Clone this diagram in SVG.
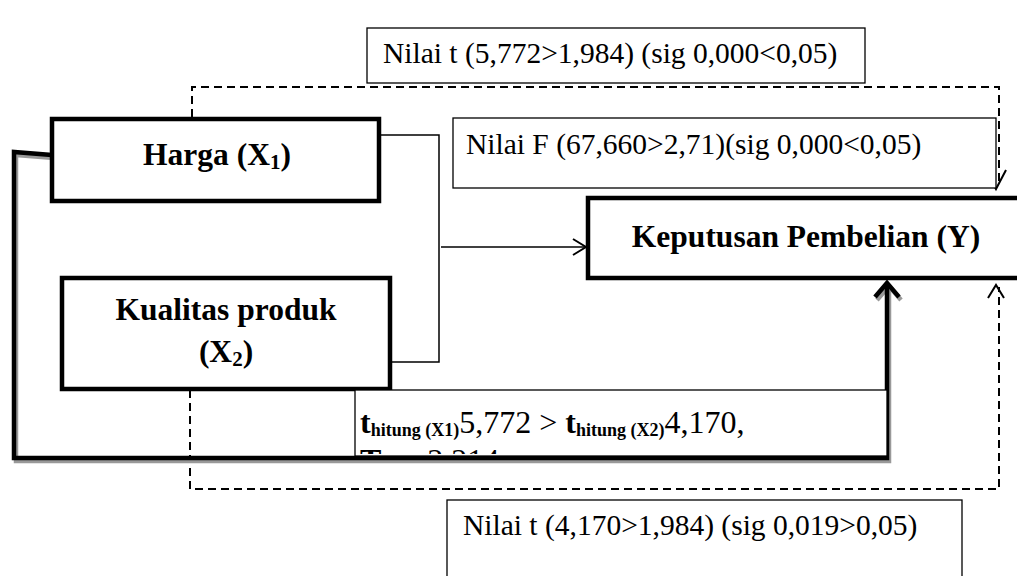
<svg xmlns="http://www.w3.org/2000/svg" width="1017" height="576" viewBox="0 0 1017 576">
<defs>
<style>
.thin{fill:#fff;stroke:#000;stroke-width:1.3}
.thick{fill:#fff;stroke:#000;stroke-width:4.5}
.dash{fill:none;stroke:#000;stroke-width:2;stroke-dasharray:8 5}
.ln{fill:none;stroke:#000;stroke-width:1.5}
.reg{font-family:"Liberation Serif","Times New Roman",serif;font-size:29.5px;fill:#000}
.bold{font-family:"Liberation Serif","Times New Roman",serif;font-size:31.5px;font-weight:bold;fill:#000}
</style>
<clipPath id="tclip"><rect x="355" y="390" width="532" height="64"/></clipPath>
</defs>
<rect width="1017" height="576" fill="#fff"/>
<g id="connectors">
<path class="dash" d="M192,117 V87 H999 V186"/>
<path fill="none" stroke="#000" stroke-width="2" d="M986,170 L996,189 L1006,170"/>
<path class="dash" d="M190,390 V489 H999 V287"/>
<path fill="none" stroke="#000" stroke-width="2" d="M988,298 L996,285 L1004,298"/>
<path fill="none" stroke="#999" stroke-width="4.5" d="M54,158 L16,155 L16,461 L889,461 L889,290"/>
<path fill="none" stroke="#999" stroke-width="4.5" d="M877,300 L889,286 L901,300"/>
<path fill="none" stroke="#000" stroke-width="4.5" d="M52,155 L14,152 L14,458 L887,458 L887,285"/>
<path fill="none" stroke="#000" stroke-width="4.5" d="M875,297 L887,283 L899,297"/>
<path class="ln" d="M380,135 H439 V362 H390"/>
<path class="ln" d="M441,247 H586"/>
<path fill="none" stroke="#000" stroke-width="2" d="M573,239 L586,247 L573,255"/>
</g>
<g id="label-t1">
<rect class="thin" x="367" y="28" width="498" height="55"/>
<text class="reg" x="383" y="63">Nilai t (5,772&gt;1,984) (sig 0,000&lt;0,05)</text>
</g>
<g id="label-f">
<rect class="thin" x="453" y="118" width="543" height="70"/>
<text class="reg" x="466" y="154">Nilai F (67,660&gt;2,71)(sig 0,000&lt;0,05)</text>
</g>
<g id="harga">
<rect class="thick" x="52" y="119" width="327" height="82"/>
<text class="bold" x="217" y="165" text-anchor="middle">Harga (X<tspan font-size="21" dy="4">1</tspan><tspan dy="-4">)</tspan></text>
</g>
<g id="kualitas">
<rect class="thick" x="62" y="278" width="328" height="111"/>
<text class="bold" x="226" y="320" text-anchor="middle">Kualitas produk</text>
<text class="bold" x="226" y="362" text-anchor="middle">(X<tspan font-size="21" dy="4">2</tspan><tspan dy="-4">)</tspan></text>
</g>
<g id="keputusan">
<rect class="thick" x="588" y="198" width="450" height="80"/>
<text class="bold" x="806" y="247" text-anchor="middle">Keputusan Pembelian (Y)</text>
</g>
<g id="label-thitung">
<rect class="thin" x="355" y="390" width="532" height="66"/>
<g clip-path="url(#tclip)">
<text x="360" y="433" font-family="Liberation Serif,serif" font-size="32"><tspan font-weight="bold">t</tspan><tspan font-weight="bold" font-size="18" dy="3">hitung (X1)</tspan><tspan dy="-3">5,772 &gt; </tspan><tspan font-weight="bold">t</tspan><tspan font-weight="bold" font-size="18" dy="3">hitung (X2)</tspan><tspan dy="-3">4,170,</tspan></text>
<text x="360" y="471" font-family="Liberation Serif,serif" font-size="32"><tspan font-weight="bold">T</tspan><tspan font-weight="bold" font-size="18" dy="3">tabel</tspan><tspan dy="-3">  3,214</tspan></text>
</g>
</g>
<g id="label-t2">
<rect class="thin" x="447" y="500" width="515" height="90"/>
<text class="reg" x="463" y="535">Nilai t (4,170&gt;1,984) (sig 0,019&gt;0,05)</text>
</g>
</svg>
